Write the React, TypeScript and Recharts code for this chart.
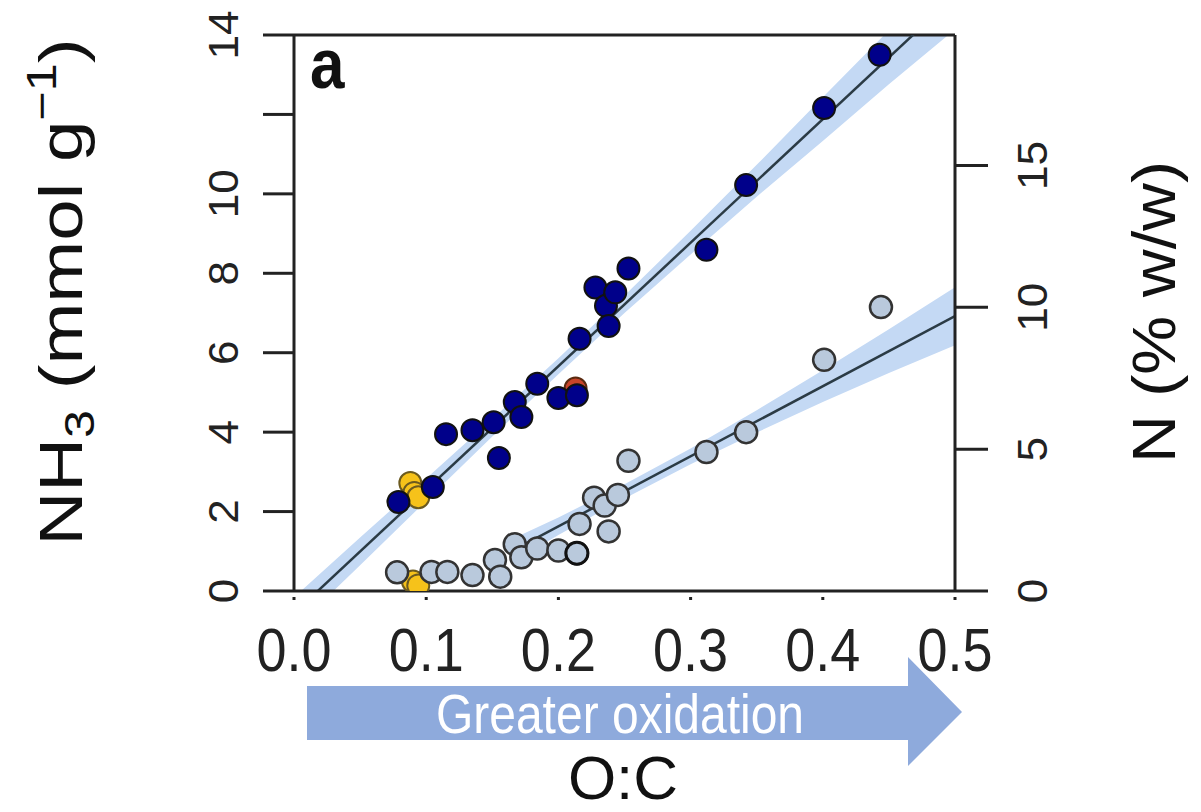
import React from "react";
import {
  ComposedChart,
  XAxis,
  YAxis,
  Scatter,
  Line,
  Area,
  ReferenceLine,
} from "recharts";

// ---- data ----
// NH3 uptake (mmol g-1) vs O:C  (dark blue points)
const nh3X = [0.079, 0.105, 0.115, 0.135, 0.151, 0.155, 0.167, 0.172, 0.184, 0.2, 0.214, 0.216, 0.228, 0.236, 0.238, 0.243, 0.253, 0.312, 0.342, 0.401, 0.443];
const nh3Y = [2.24, 2.62, 3.95, 4.05, 4.25, 3.35, 4.76, 4.38, 5.22, 4.86, 4.93, 6.35, 7.64, 7.18, 6.67, 7.52, 8.12, 8.59, 10.22, 12.16, 13.5];
// N content points (grey), in left-axis units
const nX = [0.078, 0.104, 0.116, 0.135, 0.152, 0.156, 0.167, 0.172, 0.184, 0.2, 0.214, 0.216, 0.227, 0.235, 0.238, 0.245, 0.253, 0.312, 0.342, 0.401, 0.444];
const nY = [0.47, 0.48, 0.48, 0.4, 0.78, 0.36, 1.18, 0.85, 1.07, 1.02, 0.95, 1.69, 2.35, 2.15, 1.5, 2.42, 3.28, 3.5, 4.0, 5.82, 7.15];
// highlighted samples
const yellowX = [0.088, 0.091, 0.094];
const yellowY = [2.72, 2.47, 2.36];
const yellowNX = [0.09, 0.094];
const yellowNY = [0.24, 0.14];
const redX = [0.213];
const redY = [5.1];
const darkNX = [0.214];
const darkNY = [0.95];

// fit lines
const nh3FitX = [0.0, 0.5];
const nh3FitY = [-0.56, 14.99];
const nFitX = [0.165, 0.5];
const nFitY = [1.01, 6.92];

// confidence bands
const nh3BandX = [0.0, 0.05, 0.1, 0.15, 0.2, 0.25, 0.3, 0.35, 0.4, 0.45, 0.5];
const nh3BandLo = [-0.96, 0.65, 2.27, 3.89, 5.46, 7.0, 8.47, 9.93, 11.33, 12.76, 14.14];
const nh3BandHi = [-0.16, 1.35, 2.83, 4.33, 5.86, 7.44, 9.07, 10.73, 12.43, 14.12, 15.84];
const nBandX = [0.165, 0.2, 0.25, 0.3, 0.35, 0.4, 0.45, 0.5];
const nBandLo = [0.71, 1.41, 2.33, 3.19, 3.99, 4.76, 5.49, 6.19];
const nBandHi = [1.31, 1.85, 2.69, 3.59, 4.55, 5.56, 6.59, 7.65];

// ticks
const xTicks = [0, 0.1, 0.2, 0.3, 0.4, 0.5];
const leftTicks = [0, 2, 4, 6, 8, 10, 12, 14];
const leftLabeled = [0, 2, 4, 6, 8, 10, 14];
const rightTicks = [0, 5, 10, 15];

const pts = (xs: number[], ys: number[]) => xs.map((x, i) => ({ x, y: ys[i] }));
const band = (xs: number[], lo: number[], hi: number[]) =>
  xs.map((x, i) => ({ x, range: [lo[i], hi[i]] }));

const FONT = "'Liberation Sans', Arial, Helvetica, sans-serif";
const AX = "#222";

const dot = (fill: string, stroke: string, sw = 2) => (props: any) => (
  <circle cx={props.cx} cy={props.cy} r={11} fill={fill} stroke={stroke} strokeWidth={sw} />
);

const LeftTick = (props: any) => {
  const { x, y, payload } = props;
  if (!leftLabeled.includes(payload.value)) return <g />;
  return (
    <text
      transform={`translate(${x - 25},${y}) rotate(-90) scale(1.05,1)`}
      textAnchor="middle"
      fontSize={42}
      fontFamily={FONT}
      fill={AX}
    >
      {payload.value}
    </text>
  );
};

const RightTick = (props: any) => {
  const { x, y, payload } = props;
  return (
    <text
      transform={`translate(${x + 59},${y}) rotate(-90) scale(1.05,1)`}
      textAnchor="middle"
      fontSize={42}
      fontFamily={FONT}
      fill={AX}
    >
      {payload.value}
    </text>
  );
};

const BottomTick = (props: any) => {
  const { x, y, payload } = props;
  return (
    <g>
      <rect x={x - 1.5} y={y + 6} width={3} height={3} fill={AX} />
      <text
        transform={`translate(${x},${y + 80}) scale(1,1.12)`}
        textAnchor="middle"
        fontSize={54}
        fontFamily={FONT}
        fill={AX}
      >
        {Number(payload.value).toFixed(1)}
      </text>
    </g>
  );
};

export default function App() {
  return (
    <div style={{ position: "absolute", left: 0, top: 0, width: 1201, height: 812, background: "#fff" }}>
      <ComposedChart
        width={1201}
        height={812}
        margin={{ top: 35, right: 166, bottom: 161, left: 214 }}
      >
        <XAxis
          dataKey="x"
          type="number"
          domain={[0, 0.5]}
          ticks={xTicks}
          allowDataOverflow
          height={60}
          tickSize={0}
          tickMargin={0}
          tickLine={false}
          axisLine={{ stroke: AX, strokeWidth: 3 }}
          tick={<BottomTick />}
        />
        <YAxis
          yAxisId="left"
          type="number"
          domain={[0, 14]}
          ticks={leftTicks}
          allowDataOverflow
          width={80}
          tickSize={31}
          tickMargin={0}
          tickLine={{ stroke: AX, strokeWidth: 3 }}
          axisLine={{ stroke: AX, strokeWidth: 3 }}
          tick={<LeftTick />}
        />
        <YAxis
          yAxisId="right"
          orientation="right"
          type="number"
          domain={[0, 19.6]}
          ticks={rightTicks}
          allowDataOverflow
          width={80}
          tickSize={33}
          tickMargin={0}
          tickLine={{ stroke: AX, strokeWidth: 3 }}
          axisLine={{ stroke: AX, strokeWidth: 3 }}
          tick={<RightTick />}
        />
        <ReferenceLine yAxisId="left" y={14} stroke={AX} strokeWidth={3} />

        <Area
          yAxisId="left"
          data={band(nh3BandX, nh3BandLo, nh3BandHi)}
          dataKey="range"
          type="linear"
          stroke="none"
          fill="#c4d9f4"
          fillOpacity={1}
          isAnimationActive={false}
          activeDot={false}
          dot={false}
        />
        <Area
          yAxisId="left"
          data={band(nBandX, nBandLo, nBandHi)}
          dataKey="range"
          type="linear"
          stroke="none"
          fill="#c4d9f4"
          fillOpacity={1}
          isAnimationActive={false}
          activeDot={false}
          dot={false}
        />
        <Line
          yAxisId="left"
          data={pts(nh3FitX, nh3FitY)}
          dataKey="y"
          type="linear"
          stroke="#2b3b45"
          strokeWidth={2.5}
          dot={false}
          activeDot={false}
          isAnimationActive={false}
        />
        <Line
          yAxisId="left"
          data={pts(nFitX, nFitY)}
          dataKey="y"
          type="linear"
          stroke="#2b3b45"
          strokeWidth={2.5}
          dot={false}
          activeDot={false}
          isAnimationActive={false}
        />
        <Scatter yAxisId="left" data={pts(yellowNX, yellowNY)} dataKey="y" shape={dot("#f6c21a", "#6b5a20")} isAnimationActive={false} />
        <Scatter yAxisId="left" data={pts(nX, nY)} dataKey="y" shape={dot("#b9c9dc", "#333", 2.5)} isAnimationActive={false} />
        <Scatter yAxisId="left" data={pts(darkNX, darkNY)} dataKey="y" shape={dot("#b9c9dc", "#111", 3)} isAnimationActive={false} />
        <Scatter yAxisId="left" data={pts(yellowX, yellowY)} dataKey="y" shape={dot("#f6c21a", "#6b5a20")} isAnimationActive={false} />
        <Scatter yAxisId="left" data={pts(redX, redY)} dataKey="y" shape={dot("#c8442a", "#5a2a10")} isAnimationActive={false} />
        <Scatter yAxisId="left" data={pts(nh3X, nh3Y)} dataKey="y" shape={dot("#00008a", "#111")} isAnimationActive={false} />
      </ComposedChart>

      <svg
        width={1201}
        height={812}
        style={{ position: "absolute", left: 0, top: 0, pointerEvents: "none" }}
        fontFamily={FONT}
      >
        <text transform="translate(310,88) scale(1,1.15)" fontSize={62} fontWeight="bold" fill="#111">
          a
        </text>
        <text transform="translate(82,292) rotate(-90) scale(1.2,1)" textAnchor="middle" fontSize={62} fill="#111">
          <tspan>NH</tspan>
          <tspan fontSize={42} dy={12}>3</tspan>
          <tspan dy={-12}> (mmol g</tspan>
          <tspan fontSize={42} dy={-26}>−1</tspan>
          <tspan dy={26}>)</tspan>
        </text>
        <text transform="translate(1175,312) rotate(-90) scale(1.07,1)" textAnchor="middle" fontSize={62} fill="#111">
          N (% w/w)
        </text>
        <polygon points="307,686 908,686 908,657 962,712 908,766 908,740 307,740" fill="#8eaadc" />
        <text transform="translate(620,733) scale(1,1.16)" textAnchor="middle" fontSize={48} fill="#fff">
          Greater oxidation
        </text>
        <text x={623} y={799} textAnchor="middle" fontSize={62} fill="#111">
          O:C
        </text>
      </svg>
    </div>
  );
}
